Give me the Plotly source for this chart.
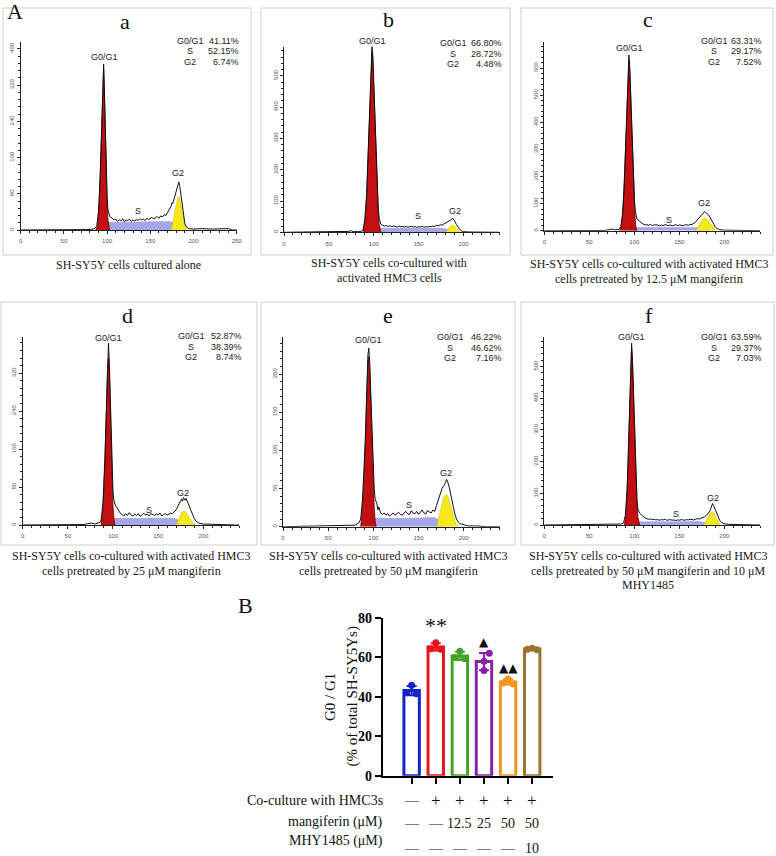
import numpy as np
import plotly.graph_objects as go

W, H = 776, 856

# ---------------- Panel A: DNA-content histograms (channel, count) ----------------
HIST_A = [(0,0),(70,0),(78,1),(84,2),(86,4),(88,8),(90,40),(92,120),(93,190),(94,270),(95,340),(96,366),(97,300),(98,210),(99,130),(100,75),(101,45),(102,35),(103,30),(104,28),
          (106,26),(108,22),(110,24),(112,19),(114,23),(116,20),(118,25),(120,18),(122,22),(124,21),(126,24),(128,19),(130,22),(132,20),(134,23),(136,21),(138,25),(140,22),(142,24),(144,21),(146,26),(148,23),(150,25),(152,28),(154,24),(156,27),(158,30),(160,26),(162,31),(164,29),(166,34),(168,32),
          (170,38),(172,45),(174,52),(175,60),(176,58),(178,72),(180,88),(182,102),(183,106),(184,98),(185,84),(186,66),(187,48),(188,32),(190,14),(192,6),(195,3),(200,2),(210,3),(220,2),(230,2),(240,3),(245,0),(250,0)]
G1FIT_A = [(87,0),(89,10),(91,60),(93,180),(94,260),(95,330),(96,355),(97,290),(98,200),(99,115),(100,55),(101,22),(102,5),(103,0)]
SFIT_A = [(96,0),(97,17),(120,17),(150,18),(170,19),(178,17),(184,8),(188,0)]
G2FIT_A = [(174,0),(176,15),(178,38),(180,60),(182,73),(183,74),(184,70),(186,50),(188,25),(190,8),(191,0)]
MARK_A = [96, 183]

HIST_B = [(0,0),(55,1),(65,2),(72,3),(75,5),(77,2),(82,3),(86,3),(88,8),(90,40),(92,120),(94,280),(95,380),(96,480),(97,560),(98,595),(99,560),(100,480),(101,380),(102,280),(103,190),(104,120),(105,75),(106,45),(107,30),(108,25),
          (110,22),(112,20),(114,21),(116,19),(118,21),(120,18),(122,20),(124,19),(126,17),(128,20),(130,18),(132,19),(134,17),(136,19),(138,16),(140,18),(142,19),(144,17),(146,18),(148,16),(150,18),(152,17),(154,19),(156,16),(158,18),(160,17),(162,19),(164,18),(166,20),(168,19),(170,22),(172,21),(174,24),(176,23),
          (178,26),(180,30),(182,33),(184,36),(186,40),(188,45),(189,42),(190,36),(192,25),(194,14),(196,8),(198,4),(200,2),(205,1),(215,1),(230,0),(240,0)]
G1FIT_B = [(88,0),(90,30),(92,110),(94,265),(96,465),(97,545),(98,580),(99,545),(100,465),(101,360),(102,260),(103,170),(104,100),(105,55),(106,25),(107,8),(108,0)]
SFIT_B = [(97,0),(99,13),(140,13),(175,13),(182,10),(188,0)]
G2FIT_B = [(180,0),(182,8),(184,17),(186,22),(188,23),(190,20),(192,12),(194,5),(196,0)]
MARK_B = [98, 188]

HIST_C = [(0,0),(68,1),(72,4),(75,6),(78,3),(81,3),(83,4),(85,15),(87,60),(89,180),(91,380),(92,490),(93,600),(94,648),(95,600),(96,500),(97,390),(98,280),(99,190),(100,120),(101,75),(102,50),(103,42),(104,40),(106,36),(108,28),
          (110,24),(112,21),(114,22),(116,20),(118,23),(120,19),(122,21),(124,22),(126,20),(128,18),(130,21),(132,19),(134,22),(136,20),(138,19),(140,21),(142,18),(144,20),(146,22),(148,19),(150,21),(152,20),(154,18),(156,21),(158,22),(160,20),(162,23),(164,22),
          (166,26),(168,32),(170,40),(172,48),(174,55),(176,62),(178,70),(179,68),(180,66),(182,60),(184,50),(186,38),(188,25),(190,14),(192,8),(195,4),(200,2),(210,1),(225,0),(240,0)]
G1FIT_C = [(84,0),(86,25),(88,110),(90,280),(92,470),(93,580),(94,630),(95,580),(96,480),(97,370),(98,260),(99,170),(100,95),(101,40),(102,10),(103,0)]
SFIT_C = [(95,0),(97,12),(140,12),(168,12),(176,9),(184,0)]
G2FIT_C = [(168,0),(170,10),(172,22),(174,34),(176,42),(178,46),(180,44),(182,38),(184,28),(186,18),(188,10),(190,3),(191,0)]
MARK_C = [94, 178]

HIST_D = [(0,0),(68,1),(72,3),(76,4),(80,2),(84,4),(86,6),(87,12),(89,50),(91,140),(92,210),(93,290),(94,350),(95,383),(96,340),(97,260),(98,180),(99,110),(100,70),(101,52),(102,44),(103,40),(104,38),(106,30),(108,25),
          (110,22),(112,19),(114,24),(116,20),(118,26),(120,21),(122,19),(124,23),(126,20),(128,24),(130,18),(132,22),(134,25),(136,21),(138,23),(140,19),(142,24),(144,22),(146,20),(148,23),(150,21),(152,25),(154,19),(156,22),(158,24),(160,21),(162,23),(164,25),(166,24),
          (168,28),(170,32),(172,40),(174,48),(176,55),(177,50),(178,58),(179,56),(180,52),(181,56),(182,50),(184,42),(186,32),(188,22),(190,14),(192,8),(195,4),(200,2),(210,2),(220,1),(235,0),(240,0)]
G1FIT_D = [(87,0),(89,35),(91,125),(92,195),(93,275),(94,335),(95,352),(96,320),(97,240),(98,160),(99,90),(100,40),(101,15),(102,0)]
SFIT_D = [(96,0),(98,14),(140,14),(168,14),(174,9),(180,0)]
G2FIT_D = [(170,0),(172,10),(174,20),(176,27),(178,29),(180,28),(182,23),(184,16),(186,10),(188,5),(190,2),(192,0)]
MARK_D = [95, 178]

HIST_E = [(0,0),(68,1),(75,2),(80,2),(84,5),(86,10),(88,35),(90,80),(91,110),(92,150),(93,195),(94,225),(95,234),(96,215),(97,180),(98,140),(99,100),(100,70),(101,48),(102,36),(103,32),(104,30),(105,22),(106,26),(108,18),
          (110,16),(112,18),(114,15),(116,17),(118,14),(120,16),(122,18),(124,15),(126,17),(128,19),(130,16),(132,15),(134,18),(136,20),(138,17),(140,16),(142,21),(144,18),(146,17),(148,20),(150,16),(152,19),(154,22),(156,18),(158,17),(160,21),(162,19),(164,18),(166,22),
          (168,20),(170,28),(172,36),(174,44),(176,50),(178,54),(180,58),(181,62),(182,60),(184,52),(186,40),(188,28),(190,18),(192,10),(194,6),(196,4),(200,3),(205,1),(215,1),(225,0),(240,0)]
G1FIT_E = [(86,0),(88,25),(90,70),(92,140),(93,185),(94,215),(95,223),(96,205),(97,170),(98,130),(99,90),(100,55),(101,25),(102,8),(103,0)]
SFIT_E = [(97,0),(99,11),(140,11),(168,12),(174,7),(178,0)]
G2FIT_E = [(170,0),(172,10),(174,22),(176,32),(178,39),(180,42),(182,41),(184,35),(186,26),(188,16),(190,8),(192,3),(194,0)]
MARK_E = [94, 182]

HIST_F = [(0,0),(70,1),(75,2),(80,3),(85,3),(88,6),(90,30),(92,110),(94,280),(95,400),(96,510),(97,573),(98,520),(99,420),(100,310),(101,210),(102,130),(103,80),(104,50),(105,40),(106,37),(108,32),
          (110,26),(112,22),(114,20),(116,18),(118,19),(120,17),(122,18),(124,16),(126,17),(128,15),(130,17),(132,16),(134,18),(136,15),(138,16),(140,17),(142,15),(144,16),(146,14),(148,16),(150,15),(152,17),(154,16),(156,15),(158,17),(160,16),(162,18),(164,17),(166,16),(168,18),(170,20),(172,19),(174,21),
          (176,22),(178,26),(180,30),(182,36),(184,44),(185,52),(186,60),(187,68),(188,62),(189,55),(191,40),(193,25),(195,14),(197,8),(200,4),(205,2),(215,1),(225,0),(240,0)]
G1FIT_F = [(89,0),(91,40),(93,180),(94,270),(95,385),(96,495),(97,557),(98,505),(99,405),(100,295),(101,195),(102,115),(103,60),(104,25),(105,5),(106,0)]
SFIT_F = [(98,0),(100,10),(140,10),(172,11),(180,7),(186,0)]
G2FIT_F = [(177,0),(179,10),(181,22),(183,33),(185,40),(186,42),(187,41),(189,34),(191,22),(193,10),(195,2),(196,0)]
MARK_F = [97, 187]

PANEL_LETTERS = ["a", "b", "c", "d", "e", "f"]
STAT_G1 = ["41.11%", "66.80%", "63.31%", "52.87%", "46.22%", "63.59%"]
STAT_S = ["52.15%", "28.72%", "29.17%", "38.39%", "46.62%", "29.37%"]
STAT_G2 = ["6.74%", "4.48%", "7.52%", "8.74%", "7.16%", "7.03%"]
X_MAX = [250, 240, 240, 240, 240, 240]
Y_MAX = [415, 593, 697, 397, 249, 594]
Y_DTICK = [80, 100, 100, 80, 50, 100]
CAPTIONS = [
    ["SH-SY5Y cells cultured alone"],
    ["SH-SY5Y cells co-cultured with", "activated HMC3 cells"],
    ["SH-SY5Y cells co-cultured with activated HMC3", "cells pretreated by 12.5 μM mangiferin"],
    ["SH-SY5Y cells co-cultured with activated HMC3", "cells pretreated by 25 μM mangiferin"],
    ["SH-SY5Y cells co-cultured with activated HMC3", "cells pretreated by 50 μM mangiferin"],
    ["SH-SY5Y cells co-cultured with activated HMC3", "cells pretreated by 50 μM mangiferin and 10 μM", "MHY1485"],
]

# ---------------- Panel B: G0/G1 bar chart ----------------
GROUP_COLORS = ["#1424c4", "#e3161c", "#44a22a", "#8a22a8", "#f2961e", "#9a7432"]
POINTS = [[45.8, 42.0, 41.5], [67.3, 64.3, 64.0], [63.0, 59.8, 59.2],
          [62.0, 58.0, 53.3], [49.0, 47.0, 46.5], [64.5, 64.0, 63.8]]
SIG_MARKS = ["", "**", "", "▲", "▲▲", ""]
Y_TICKS_B = [0, 20, 40, 60, 80]
ROW_LABELS = ["Co-culture with HMC3s", "mangiferin (μM)", "MHY1485 (μM)"]
ROW_COCULTURE = ["—", "+", "+", "+", "+", "+"]
ROW_MANGIFERIN = ["—", "—", "12.5", "25", "50", "50"]
ROW_MHY = ["—", "—", "—", "—", "—", "10"]

# ---------------- layout helpers (pixel geometry) ----------------
SERIF = "Liberation Serif"
SANS = "Liberation Sans"

HISTS = [HIST_A, HIST_B, HIST_C, HIST_D, HIST_E, HIST_F]
G1FITS = [G1FIT_A, G1FIT_B, G1FIT_C, G1FIT_D, G1FIT_E, G1FIT_F]
SFITS = [SFIT_A, SFIT_B, SFIT_C, SFIT_D, SFIT_E, SFIT_F]
G2FITS = [G2FIT_A, G2FIT_B, G2FIT_C, G2FIT_D, G2FIT_E, G2FIT_F]
MARKS = [MARK_A, MARK_B, MARK_C, MARK_D, MARK_E, MARK_F]

# plot area (x0, x1, ytop, ybottom) in px
PLOT_BOX = [(20.7, 236.7, 42, 230), (284, 499.5, 46.7, 232.3), (544.3, 760.3, 41.7, 230.7),
            (22.7, 239.4, 336.7, 525), (283, 499.8, 336.7, 526.7), (544.3, 760.3, 336.7, 525)]
FRAME = [(3, 251, 8, 255), (261, 510, 8, 255), (521, 773, 8, 255),
         (1, 257, 302, 545), (261, 515, 302, 545), (521, 774, 302, 545)]
LETTER_POS = [(125, 22), (388, 20), (648, 20), (127, 315), (388, 315), (649, 315)]
STAT_POS = [(190, 240, 41), (453, 503, 43), (714, 763, 41), (191, 243, 336), (450, 503, 337), (714, 763, 337)]
PEAK_LBL = [((104, 57), (138, 211), (178, 173)), ((372, 41), (418, 216), (455, 211)),
            ((629, 48), (669, 220), (704, 203)), ((108, 338), (149, 510), (183, 493)),
            ((368, 340), (409, 505), (446, 473)), ((631, 337), (676, 514), (713, 498))]
CAPTION_POS = [(128, 265), (389, 263), (649, 264), (131, 556), (388, 556), (648, 556)]


def px_x(p):
    return p / W


def px_y(p):
    return 1 - p / H


annotations = []
shapes = []


def ann(text, x, y, size, family=SANS, color="#111111", xanchor="center", yanchor="middle", **kw):
    annotations.append(dict(text=text, x=px_x(x), y=px_y(y), xref="paper", yref="paper",
                            showarrow=False, font=dict(size=size, family=family, color=color),
                            xanchor=xanchor, yanchor=yanchor, borderpad=0, **kw))


fig = go.Figure()
layout = {}

for i in range(6):
    n = i + 1
    xa = "x" if n == 1 else f"x{n}"
    ya = "y" if n == 1 else f"y{n}"
    xkey = "xaxis" if n == 1 else f"xaxis{n}"
    ykey = "yaxis" if n == 1 else f"yaxis{n}"
    x0, x1, yt, yb = PLOT_BOX[i]

    hx, hy = zip(*HISTS[i])
    sx, sy = zip(*SFITS[i])
    gx, gy = zip(*G1FITS[i])
    g2x, g2y = zip(*G2FITS[i])

    fig.add_trace(go.Scatter(x=sx, y=sy, mode="lines", fill="tozeroy", fillcolor="#a6a6ea",
                             line=dict(color="#9292dc", width=0.5), xaxis=xa, yaxis=ya, hoverinfo="skip"))
    fig.add_trace(go.Scatter(x=g2x, y=g2y, mode="lines", fill="tozeroy", fillcolor="#f6e81a",
                             line=dict(color="#c9b800", width=0.5), xaxis=xa, yaxis=ya, hoverinfo="skip"))
    fig.add_trace(go.Scatter(x=gx, y=gy, mode="lines", fill="tozeroy", fillcolor="#c40f12",
                             line=dict(color="#6a0000", width=0.8), xaxis=xa, yaxis=ya, hoverinfo="skip"))
    fig.add_trace(go.Scatter(x=hx, y=hy, mode="lines", line=dict(color="#111111", width=1),
                             xaxis=xa, yaxis=ya, hoverinfo="skip"))
    # peak markers under the axis
    off = -Y_MAX[i] * 5.5 / (yb - yt)
    fig.add_trace(go.Scatter(x=MARKS[i], y=[off] * len(MARKS[i]), mode="markers",
                             marker=dict(symbol="triangle-up", size=6, color="#000000"),
                             cliponaxis=False, xaxis=xa, yaxis=ya, hoverinfo="skip"))

    common = dict(showline=True, linecolor="#222222", linewidth=1, ticks="outside", ticklen=3,
                  tickwidth=1, tickcolor="#222222", tickfont=dict(size=6, family=SANS, color="#555555"),
                  showgrid=False, zeroline=False, fixedrange=True, automargin=False)
    layout[xkey] = dict(common, domain=[px_x(x0), px_x(x1)], range=[0, X_MAX[i]], anchor=ya,
                        tick0=0, dtick=50, ticklabelstandoff=2,
                        minor=dict(dtick=10, ticks="outside", ticklen=2, tickcolor="#222222", tickwidth=1))
    layout[ykey] = dict(common, domain=[px_y(yb), px_y(yt)], range=[0, Y_MAX[i]], anchor=xa,
                        tick0=0, dtick=Y_DTICK[i], tickangle=-90,
                        minor=dict(dtick=Y_DTICK[i] / 5, ticks="outside", ticklen=2, tickcolor="#222222", tickwidth=1))

    fx0, fx1, fy0, fy1 = FRAME[i]
    shapes.append(dict(type="rect", xref="paper", yref="paper", x0=px_x(fx0), x1=px_x(fx1),
                       y0=px_y(fy1), y1=px_y(fy0), line=dict(color="#cdcdcd", width=1)))

    lx, ly = LETTER_POS[i]
    ann(PANEL_LETTERS[i], lx, ly, 22, SERIF, "#111111")
    cx, vx, ry = STAT_POS[i]
    for k, (lab, val) in enumerate(zip(["G0/G1", "S", "G2"], [STAT_G1[i], STAT_S[i], STAT_G2[i]])):
        ann(lab, cx, ry + k * 10.5, 9, SANS, "#222222")
        ann(val, vx, ry + k * 10.5, 9, SANS, "#222222", xanchor="right")
    for lab, (px_, py_) in zip(["G0/G1", "S", "G2"], PEAK_LBL[i]):
        ann(lab, px_, py_, 9, SANS, "#222222")
    capx, capy = CAPTION_POS[i]
    for k, line in enumerate(CAPTIONS[i]):
        ann(line, capx, capy + k * 14.5, 12, SERIF, "#1a1a1a")

ann("A", 15, 12, 22, SERIF, "#111111")

# ---------------- bar chart ----------------
idx = list(range(len(POINTS)))
means = [float(np.mean(p)) for p in POINTS]
sds = [float(np.std(p, ddof=1)) for p in POINTS]
fig.add_trace(go.Bar(x=idx, y=means, width=0.64,
                     marker=dict(color="white", line=dict(color=GROUP_COLORS, width=3)),
                     xaxis="x7", yaxis="y7", hoverinfo="skip"))
DX = [[0, -0.2, 0.2], [0, -0.2, 0.2], [0, -0.2, 0.2], [0.22, 0, 0], [0, -0.2, 0.2], [0, -0.2, 0.2]]
for g in idx:
    c = GROUP_COLORS[g]
    fig.add_trace(go.Scatter(x=[g], y=[means[g]], mode="markers", marker=dict(size=1, color=c),
                             error_y=dict(type="data", array=[sds[g]], color=c, thickness=2, width=5),
                             xaxis="x7", yaxis="y7", hoverinfo="skip"))
    fig.add_trace(go.Scatter(x=[g + d for d in DX[g]], y=POINTS[g], mode="markers",
                             marker=dict(size=7, color=c), xaxis="x7", yaxis="y7", hoverinfo="skip",
                             cliponaxis=False))
for g, s in enumerate(SIG_MARKS):
    if s:
        top = means[g] + sds[g]
        annotations.append(dict(text=s, x=g, y=max(top, max(POINTS[g])), xref="x7", yref="y7",
                                showarrow=False, yanchor="bottom", yshift=3 if s == "**" else 2,
                                font=dict(size=22 if s == "**" else 12,
                                          family=SERIF if s == "**" else "DejaVu Sans", color="#111111")))

layout["xaxis7"] = dict(domain=[px_x(382.7), px_x(552.7)], range=[-1.2, 5.85], anchor="y7",
                        showline=True, linecolor="#000000", linewidth=2, ticks="outside", ticklen=6,
                        tickwidth=2, tickcolor="#000000", tickvals=idx, showticklabels=False,
                        showgrid=False, zeroline=False, fixedrange=True, automargin=False)
layout["yaxis7"] = dict(domain=[px_y(775.7), px_y(617.7)], range=[0, 80], anchor="x7",
                        showline=True, linecolor="#000000", linewidth=2, ticks="outside", ticklen=6,
                        tickwidth=2, tickcolor="#000000", tickvals=Y_TICKS_B,
                        tickfont=dict(size=14, family=SERIF, color="#000000", weight="bold"),
                        showgrid=False, zeroline=False, fixedrange=True, automargin=False)

ann("B", 245, 605, 22, SERIF, "#111111")
ann("G0 / G1", 330, 697, 15, SERIF, "#111111", textangle=-90)
ann("(% of total SH-SY5Ys)", 351.5, 697, 15, SERIF, "#111111", textangle=-90)

ROW_Y = [800, 822, 841]
VAL_Y = [800, 823, 848]
for k, lab in enumerate(ROW_LABELS):
    ann(lab, 384, ROW_Y[k], 14, SERIF, "#111111", xanchor="right")
for k, row in enumerate([ROW_COCULTURE, ROW_MANGIFERIN, ROW_MHY]):
    for g, v in enumerate(row):
        annotations.append(dict(text=v, x=g, y=px_y(VAL_Y[k]), xref="x7", yref="paper", showarrow=False,
                                xanchor="center", yanchor="middle", borderpad=0,
                                font=dict(size=17 if v == "+" else 14, family=SERIF, color="#111111")))

layout.update(dict(width=W, height=H, margin=dict(l=0, r=0, t=0, b=0, autoexpand=False), showlegend=False,
                   plot_bgcolor="white", paper_bgcolor="white", annotations=annotations, shapes=shapes,
                   hovermode=False))
fig.update_layout(**layout)
fig.write_html("out.html", config={"displayModeBar": False, "staticPlot": True},
               post_script="document.body.style.margin='0px';document.body.style.overflow='hidden';")
